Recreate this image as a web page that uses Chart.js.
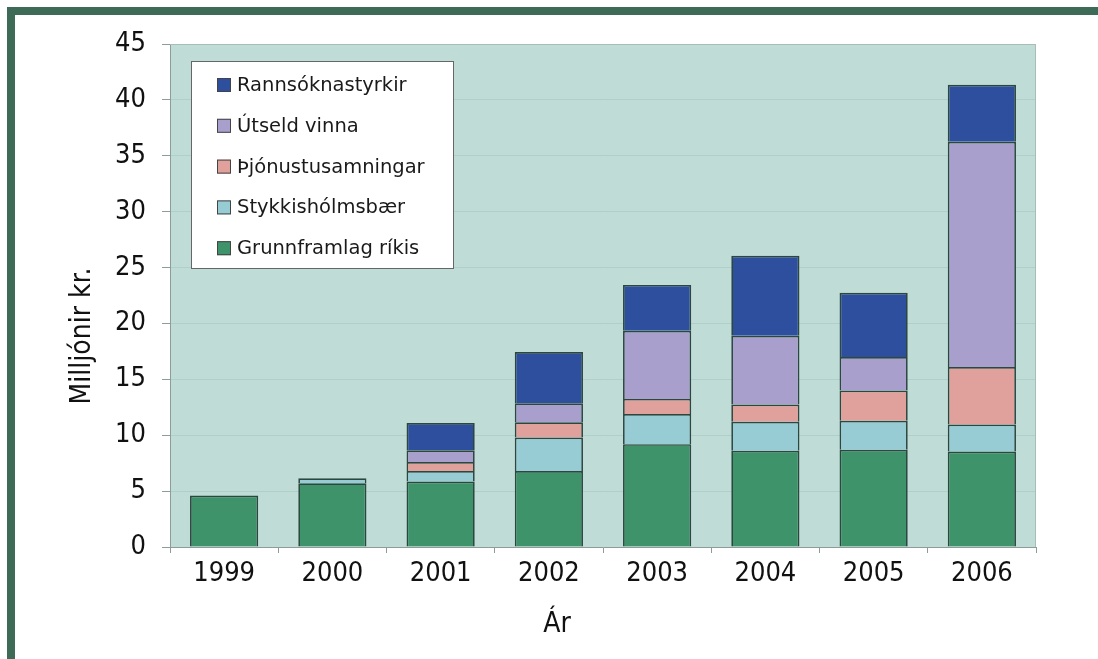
<!DOCTYPE html>
<html>
<head>
<meta charset="UTF-8">
<title>Fjármögnun</title>
<script src="https://cdn.jsdelivr.net/npm/chart.js"></script>
<style>
  html, body { margin: 0; padding: 0; background: #fff; }
  #wrap { width: 1098px; height: 659px; position: relative; }
</style>
</head>
<body>
<div id="wrap"><canvas id="fundChart"></canvas></div>
<script>
// years and income by source, millions ISK
var years = ['1999', '2000', '2001', '2002', '2003', '2004', '2005', '2006'];
var grunnframlag = [4.6, 5.7, 5.85, 6.8, 9.2, 8.6, 8.7, 8.55];
var stykkisholmur = [0, 0.45, 0.95, 3.0, 2.7, 2.6, 2.6, 2.4];
var thjonusta = [0, 0, 0.8, 1.35, 1.35, 1.55, 2.7, 5.15];
var utseld = [0, 0, 1.05, 1.7, 6.1, 6.15, 3.0, 20.15];
var rannsoknir = [0, 0, 2.45, 4.6, 4.1, 7.15, 5.75, 5.1];
var yTicks = [0, 5, 10, 15, 20, 25, 30, 35, 40, 45];

var tickFont = 'DejaVu Sans Condensed, DejaVu Sans, sans-serif';
var legendFont = 'DejaVu Sans, Verdana, sans-serif';

// frame, plot background, axis titles and the boxed legend
var decorations = {
    id: 'decorations',
    beforeDraw: function(chart) {
        var ctx = chart.ctx, a = chart.chartArea;
        ctx.save();
        ctx.fillStyle = '#3d6b57';
        ctx.fillRect(7, 7, 8, 659);
        ctx.fillRect(7, 7, 1098, 8);
        ctx.fillStyle = '#bfdcd6';
        ctx.fillRect(a.left, a.top, a.right - a.left, a.bottom - a.top);
        ctx.restore();
    },
    beforeDatasetsDraw: function(chart) {
        var ctx = chart.ctx, a = chart.chartArea;
        ctx.save();
        ctx.strokeStyle = '#a9bcb8';
        ctx.lineWidth = 1;
        ctx.beginPath();
        ctx.moveTo(a.left, a.top + 0.5);
        ctx.lineTo(a.right - 0.5, a.top + 0.5);
        ctx.lineTo(a.right - 0.5, a.bottom);
        ctx.stroke();
        ctx.restore();
    },
    afterDraw: function(chart) {
        var ctx = chart.ctx;
        ctx.save();
        ctx.fillStyle = '#111';
        // axis titles
        ctx.font = '28px ' + tickFont;
        ctx.textAlign = 'center';
        ctx.textBaseline = 'alphabetic';
        ctx.fillText('Ár', 557, 632);
        ctx.translate(90, 336);
        ctx.rotate(-Math.PI / 2);
        ctx.fillText('Milljónir kr.', 0, 0);
        ctx.restore();

        // legend box, top series first
        var lx = 191, ly = 61, lw = 262, lh = 207;
        ctx.save();
        ctx.fillStyle = '#ffffff';
        ctx.fillRect(lx, ly, lw, lh);
        ctx.strokeStyle = '#666';
        ctx.lineWidth = 1;
        ctx.strokeRect(lx + 0.5, ly + 0.5, lw, lh);
        ctx.font = '19.5px ' + legendFont;
        ctx.textAlign = 'left';
        ctx.textBaseline = 'middle';
        var sets = chart.data.datasets.slice().reverse();
        sets.forEach(function(ds, i) {
            var cy = 85 + i * 40.8;
            ctx.fillStyle = ds.backgroundColor;
            ctx.fillRect(217, cy - 7, 14, 14);
            ctx.strokeStyle = '#444';
            ctx.strokeRect(217.5, cy - 6.5, 13, 13);
            ctx.fillStyle = '#1a1a1a';
            ctx.fillText(ds.label, 237, cy + 1);
        });
        ctx.restore();
    }
};

function makeSet(label, values, color) {
    return {
        label: label,
        data: values,
        backgroundColor: color,
        borderColor: '#2c4740',
        borderWidth: 1.7,
        barPercentage: 0.63,
        categoryPercentage: 1.0
    };
}

var ctx = document.getElementById('fundChart').getContext('2d');
var fundChart = new Chart(ctx, {
    type: 'bar',
    data: {
        labels: years,
        datasets: [
            makeSet('Grunnframlag ríkis', grunnframlag, '#3f936a'),
            makeSet('Stykkishólmsbær', stykkisholmur, '#98ccd5'),
            makeSet('Þjónustusamningar', thjonusta, '#e0a19c'),
            makeSet('Útseld vinna', utseld, '#a99fcc'),
            makeSet('Rannsóknastyrkir', rannsoknir, '#2e4f9e')
        ]
    },
    options: {
        responsive: true,
        maintainAspectRatio: false,
        animation: false,
        layout: { padding: { left: 0, top: 44, right: 62, bottom: 0 } },
        plugins: {
            legend: { display: false },
            tooltip: { enabled: false }
        },
        scales: {
            x: {
                stacked: true,
                afterFit: function(scale) { scale.height = 112; },
                border: { color: '#8e9c99', width: 1 },
                grid: {
                    offset: true,
                    drawOnChartArea: false,
                    tickLength: 6,
                    tickColor: '#8e9c99'
                },
                ticks: {
                    color: '#111',
                    padding: 5,
                    font: { family: tickFont, size: 27 }
                }
            },
            y: {
                stacked: true,
                min: 0,
                max: 45,
                afterFit: function(scale) { scale.width = 170; },
                afterBuildTicks: function(scale) {
                    scale.ticks = yTicks.map(function(v) { return { value: v }; });
                },
                border: { color: '#8e9c99', width: 1 },
                grid: {
                    color: '#b0cfc9',
                    tickColor: '#8e9c99',
                    tickLength: 8
                },
                ticks: {
                    color: '#111',
                    padding: 16,
                    font: { family: tickFont, size: 27 }
                }
            }
        }
    },
    plugins: [decorations]
});
</script>
</body>
</html>
